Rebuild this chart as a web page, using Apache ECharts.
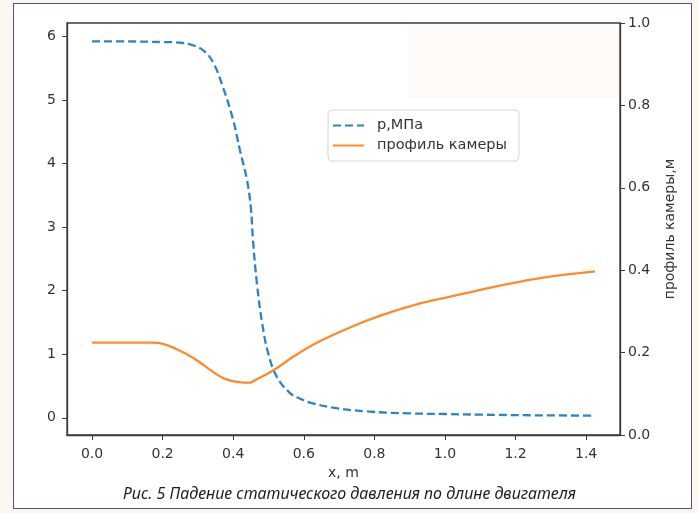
<!DOCTYPE html>
<html>
<head>
<meta charset="utf-8">
<script src="https://cdn.jsdelivr.net/npm/echarts@6/dist/echarts.min.js"></script>
<style>
    html, body { margin: 0; padding: 0; background: #fbf7ef; }
    #frame { position: absolute; left: 13px; top: 3px; width: 677px; height: 504px;
             background: #ffffff; border: 1.5px solid #4d4da8; }
    #chart { position: absolute; left: 0; top: 0; width: 699px; height: 513px; }
</style>
</head>
<body>
<div id="frame"></div>
<div id="chart"></div>
<script>
    // pressure along the engine, MPa
    var pressureX = [0, 0.1, 0.2, 0.25, 0.28, 0.315, 0.343, 0.371, 0.4, 0.419, 0.439, 0.45, 0.456, 0.467,
        0.482, 0.499, 0.524, 0.561, 0.59, 0.618, 0.683, 0.78, 0.9, 1.0, 1.1, 1.25, 1.425];
    var pressureY = [5.92, 5.92, 5.91, 5.9, 5.87, 5.78, 5.59, 5.2, 4.68, 4.21, 3.74, 3.3, 2.8, 2.12,
        1.49, 1.02, 0.64, 0.39, 0.3, 0.24, 0.16, 0.1, 0.07, 0.06, 0.05, 0.04, 0.035];

    // chamber profile, m
    var profileX = [0, 0.1, 0.174, 0.21, 0.24, 0.275, 0.306, 0.335, 0.363, 0.385, 0.41, 0.43, 0.448,
        0.46, 0.514, 0.57, 0.637, 0.731, 0.825, 0.92, 1.0, 1.08, 1.175, 1.27, 1.425];
    var profileY = [0.224, 0.224, 0.224, 0.219, 0.208, 0.193, 0.176, 0.158, 0.142, 0.134, 0.129, 0.127, 0.127,
        0.132, 0.157, 0.19, 0.224, 0.261, 0.292, 0.317, 0.333, 0.348, 0.366, 0.381, 0.397];

    var xTicks = [0, 0.2, 0.4, 0.6, 0.8, 1.0, 1.2, 1.4];
    var leftTicks = [0, 1, 2, 3, 4, 5, 6];
    var rightTicks = [0, 0.2, 0.4, 0.6, 0.8, 1.0];

    var seriesNames = ['p,МПа', 'профиль камеры'];

    function zip(xs, ys) {
        return xs.map(function (x, i) { return [x, ys[i]]; });
    }

    var font = 'DejaVu Sans';
    var axisColor = '#3a3a3a';
    var textColor = '#333333';
    var blue = '#2f82c4';
    var orange = '#ff8a2a';

    // legend icons: dashed and solid line samples
    var dashIcon = 'path://M0,0h8v2h-8zM12,0h8v2h-8zM24,0h7v2h-7z';
    var solidIcon = 'path://M0,0h31v2h-31z';

    var myChart = echarts.init(document.getElementById('chart'), null, { renderer: 'canvas' });

    var option = {
        backgroundColor: 'transparent',
        animation: false,
        textStyle: { fontFamily: font },
        grid: {
            left: 67, right: 79, top: 23, bottom: 78,
            show: true, borderColor: axisColor, borderWidth: 1.3, backgroundColor: 'transparent'
        },
        legend: {
            data: [
                { name: seriesNames[0], icon: dashIcon },
                { name: seriesNames[1], icon: solidIcon }
            ],
            orient: 'vertical',
            left: 328, top: 110,
            itemWidth: 31, itemHeight: 2.3, itemGap: 5,
            padding: [8, 12, 8, 5],
            borderColor: '#d6d6d6', borderWidth: 1, borderRadius: 4,
            backgroundColor: 'rgba(255,255,255,0.85)',
            textStyle: { fontFamily: font, fontSize: 14.5, color: textColor, padding: [0, 0, 0, 8] }
        },
        xAxis: {
            type: 'value', min: -0.071, max: 1.496,
            name: 'x, m', nameLocation: 'middle', nameGap: 30,
            nameTextStyle: { fontFamily: font, fontSize: 14, color: textColor },
            axisLine: { show: true, onZero: false, lineStyle: { color: axisColor, width: 1.3 } },
            axisTick: { show: true, length: 5, customValues: xTicks, lineStyle: { color: axisColor } },
            axisLabel: {
                customValues: xTicks, margin: 12, fontSize: 14, color: textColor,
                formatter: function (v) { return v.toFixed(1); }
            },
            splitLine: { show: false }
        },
        yAxis: [{
            type: 'value', position: 'left', min: -0.27, max: 6.21,
            axisLine: { show: true, onZero: false, lineStyle: { color: axisColor, width: 1.3 } },
            axisTick: { show: true, length: 5, customValues: leftTicks, lineStyle: { color: axisColor } },
            axisLabel: {
                customValues: leftTicks, margin: 11, fontSize: 14, color: textColor,
                formatter: function (v) { return String(Math.round(v)); }
            },
            splitLine: { show: false }
        }, {
            type: 'value', position: 'right', min: 0, max: 1.0,
            name: 'профиль камеры,м', nameLocation: 'middle', nameGap: 43, nameRotate: 90,
            nameTextStyle: { fontFamily: font, fontSize: 14, color: textColor },
            axisLine: { show: true, onZero: false, lineStyle: { color: axisColor, width: 1.3 } },
            axisTick: { show: true, length: 5, customValues: rightTicks, lineStyle: { color: axisColor } },
            axisLabel: {
                customValues: rightTicks, margin: 8, fontSize: 14, color: textColor,
                formatter: function (v) { return v.toFixed(1); }
            },
            splitLine: { show: false }
        }],
        series: [{
            name: seriesNames[0],
            type: 'line',
            yAxisIndex: 0,
            data: zip(pressureX, pressureY),
            symbol: 'none',
            smooth: 0.4,
            color: blue,
            lineStyle: { color: blue, width: 2.3, type: [8, 4] }
        }, {
            name: seriesNames[1],
            type: 'line',
            yAxisIndex: 1,
            data: zip(profileX, profileY),
            symbol: 'none',
            smooth: 0.4,
            color: orange,
            lineStyle: { color: orange, width: 2.3 }
        }],
        graphic: [{
            // faint scan patch in the top right of the plot
            type: 'rect', z: -5, silent: true,
            shape: { x: 408, y: 24, width: 211, height: 74 },
            style: { fill: '#fdfaf7' }
        }, {
            type: 'text', left: 'center', top: 486,
            style: {
                text: 'Рис. 5 Падение статического давления по длине двигателя',
                fontFamily: 'Noto Sans', fontStyle: 'italic', fontSize: 16, fill: '#1e1e1e'
            }
        }]
    };

    if (option && typeof option === 'object') {
        myChart.setOption(option, true);
    }
</script>
</body>
</html>
